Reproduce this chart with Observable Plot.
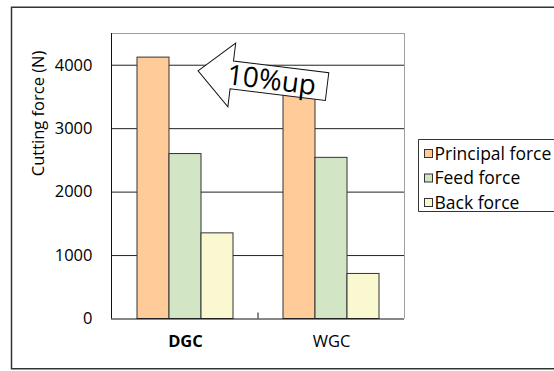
<!DOCTYPE html>
<html><head><meta charset="utf-8">
<script src="https://cdn.jsdelivr.net/npm/d3@7"></script>
<script src="https://cdn.jsdelivr.net/npm/@observablehq/plot@0.6"></script>
<style>
html,body{margin:0;padding:0;background:#fff;overflow:hidden;}
#chart{position:relative;width:554px;height:371px;overflow:hidden;}
#chart svg{position:absolute;left:0;top:0;}
</style></head><body><div id="chart"></div>
<script>
const categories = ["DGC", "WGC"];
const series = ["Principal force", "Feed force", "Back force"];
const principal = [4120, 3750];
const feed = [2600, 2540];
const back = [1350, 710];
const yTicks = [0, 1000, 2000, 3000, 4000];
const colors = ["#FFCC99", "#D2E6C6", "#FAF8D0"];
const yLabel = "Cutting force (N)";
const annotation = "10%up";

const data = [];
categories.forEach((c, i) => {
  [principal, feed, back].forEach((arr, j) => data.push({cat: c, series: series[j], value: arr[i]}));
});

const W = 554, H = 371;
const margins = {marginLeft: 111, marginRight: 150, marginTop: 33, marginBottom: 52.5};
const font = "'Open Sans', sans-serif";

// background: grid, axis labels, gray frame
const bg = Plot.plot({
  width: W, height: H, ...margins,
  style: {fontFamily: font, fontSize: "16px", background: "white", color: "#000"},
  x: {domain: [0, 1], axis: null},
  y: {domain: [0, 4500], axis: null},
  marks: [
    Plot.ruleY(yTicks.slice(1), {stroke: "#222", strokeWidth: 1}),
    Plot.ruleY([4500], {stroke: "#a0a0a0"}),
    Plot.ruleX([1], {stroke: "#a0a0a0"}),
    Plot.axisY(yTicks, {tickSize: 0, tickPadding: 19, label: null, tickFormat: d => String(d), fontSize: 16.5}),
    Plot.text([yLabel], {frameAnchor: "left", rotate: -90, dx: -73, fontSize: 16.5})
  ]
});

// foreground: faceted bars and category labels
const fg = Plot.plot({
  width: W, height: H, ...margins,
  style: {fontFamily: font, fontSize: "16px", background: "transparent", color: "#000"},
  fx: {domain: categories, paddingInner: 0.33, paddingOuter: 0.165, axis: null},
  x: {domain: series, padding: 0, axis: null},
  y: {domain: [0, 4500], axis: null},
  color: {domain: series, range: colors},
  marks: [
    Plot.barY(data, {fx: "cat", x: "series", y: "value", fill: "series", stroke: "#333", strokeWidth: 1, inset: 0}),
    Plot.text(categories.filter(c => c === "DGC"), {fx: d => d, text: d => d, frameAnchor: "bottom", dy: 28, fontWeight: "bold", fontSize: 16.5}),
    Plot.text(categories.filter(c => c !== "DGC"), {fx: d => d, text: d => d, frameAnchor: "bottom", dy: 28, fontSize: 16.5})
  ]
});

// axis lines (left & bottom) and category tick, on top of bars
const axes = Plot.plot({
  width: W, height: H, ...margins,
  style: {background: "transparent"},
  x: {domain: [0, 1], axis: null},
  y: {domain: [0, 4500], axis: null},
  marks: [
    Plot.ruleX([0], {stroke: "#111"}),
    Plot.ruleY([0], {stroke: "#111"}),
    Plot.ruleX([0.5], {y1: 0, y2: 0, insetTop: -6, stroke: "#111"})
  ]
});

const chart = document.getElementById("chart");
chart.appendChild(bg);
chart.appendChild(fg);
chart.appendChild(axes);

(function decorate() {
  const svg = d3.select(axes);
  // outer figure border: top, left and bottom sides (right side lies beyond the picture)
  svg.append("path")
    .attr("d", `M${W + 5},7.25 H11.5 V368.75 H${W + 5}`)
    .attr("fill", "none").attr("stroke", "#333").attr("stroke-width", 1.5);

  const ys = fg.scale("y"), fxs = fg.scale("fx"), xs = fg.scale("x");

  // legend
  const lg = svg.append("g").attr("text-anchor", "start");
  lg.append("path").attr("d", `M${W + 5},139.5 H418.5 V211.5 H${W + 5}`)
    .attr("fill", "white").attr("stroke", "#333").attr("stroke-width", 1);
  series.forEach((s, i) => {
    const cy = 153.5 + i * 24.5;
    lg.append("rect").attr("x", 424.5).attr("y", cy - 4).attr("width", 8).attr("height", 8)
      .attr("fill", colors[i]).attr("stroke", "#333").attr("stroke-width", 1);
    lg.append("text").attr("x", 434.5).attr("y", cy).attr("dy", "0.35em").attr("text-anchor", "start")
      .attr("font-family", font).attr("font-size", 17.5).attr("fill", "#000").text(s);
  });

  // arrow annotation anchored to the WGC principal bar top
  const x0 = Math.min(...xs.range);
  const ax = fxs.apply(categories[1]) + xs.apply(series[0]) - x0 + xs.bandwidth / 2;
  const ay = ys.apply(principal[1]);
  const ag = svg.append("g").attr("transform", `translate(${ax - 29.5},${ay - 1}) rotate(7)`);
  ag.append("path")
    .attr("d", "M-72,0 L-38,-32 L-38,-14 L58,-14 L58,14 L-38,14 L-38,32 Z")
    .attr("fill", "white").attr("stroke", "#111").attr("stroke-width", 1);
  ag.append("text").attr("x", 2).attr("y", 0).attr("dy", "0.35em").attr("text-anchor", "middle")
    .attr("font-family", font).attr("font-size", 28).attr("fill", "#000").text(annotation);
})();
</script>
</body></html>
